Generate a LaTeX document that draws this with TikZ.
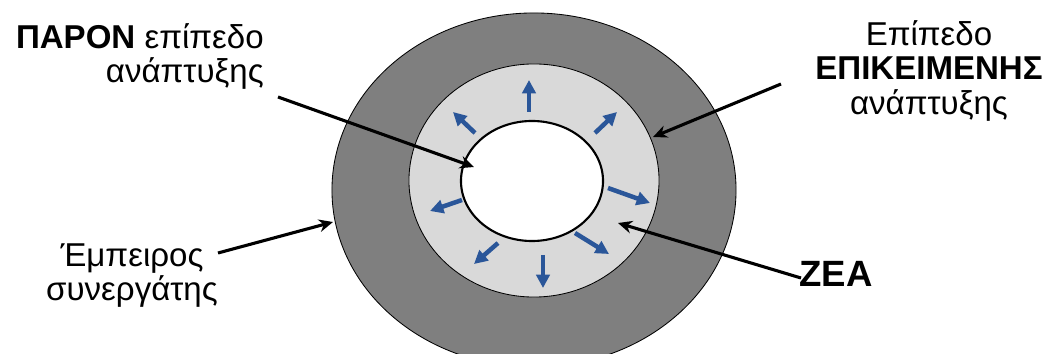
\documentclass[tikz,border=0pt]{standalone}
\usepackage{fontspec}
\setmainfont{Liberation Sans}
\usetikzlibrary{arrows.meta,shapes.geometric}
\definecolor{outergray}{HTML}{7F7F7F}
\definecolor{lightgray}{HTML}{D9D9D9}
\definecolor{arrowblue}{HTML}{2A5699}
\begin{document}
\begin{tikzpicture}[x=0.025cm,y=-0.025cm,
  lbl/.style={font=\fontsize{23.5}{24.5}\selectfont, inner sep=0pt},
  ring/.style={ellipse, draw=black, inner sep=0pt},
  pointer/.style={line width=2.2pt, -{Stealth[length=10pt,width=9pt]}},
  growarrow/.style={draw=arrowblue, line width=3.2pt, -{Triangle[length=9.5pt,width=9.5pt]}}]
\useasboundingbox (0,0) rectangle (1048,354);
\clip (0,0) rectangle (1048,354);
% rings
\node[ring, fill=outergray, line width=0.6pt, minimum width=10.1cm, minimum height=8.85cm] (outer) at (534,190) {};
\node[ring, fill=lightgray, line width=0.6pt, minimum width=6.25cm, minimum height=5.825cm] (middle) at (534,180.5) {};
\node[ring, fill=white, line width=1.5pt, minimum width=3.55cm, minimum height=3.0cm] (inner) at (532,181) {};
% growth arrows
\draw[growarrow] (529,112) -- (529,80);
\draw[growarrow] (475,133) -- (453,112);
\draw[growarrow] (595,133) -- (617,112);
\draw[growarrow] (608,188) -- (650,203);
\draw[growarrow] (462,200) -- (430,211);
\draw[growarrow] (498,243) -- (474,264);
\draw[growarrow] (543,255) -- (543,288);
\draw[growarrow] (575,233) -- (609,254);
% labels
\node[lbl, align=right, anchor=north east] (paron) at (264,23) {\textbf{ΠΑΡΟΝ} επίπεδο\\ανάπτυξης};
\node[lbl, align=center, anchor=north] (epik) at (929,20) {Επίπεδο\\\textbf{ΕΠΙΚΕΙΜΕΝΗΣ}\\ανάπτυξης};
\node[lbl, align=center, anchor=north] (emp) at (132,243) {Έμπειρος\\συνεργάτης};
\node[lbl, anchor=base west, font=\fontsize{26}{28}\selectfont\bfseries] (zea) at (799,287) {ΖΕΑ};
% pointer coordinates
\coordinate (paronS) at (278,97);
\coordinate (paronT) at (474,167);
\coordinate (epikS) at (781,84);
\coordinate (epikT) at (653,137);
\coordinate (empS) at (218,253);
\coordinate (empT) at (333,222);
\coordinate (zeaS) at (801,278);
\coordinate (zeaT) at (618,223);
\draw[pointer] (paronS) -- (paronT);
\draw[pointer] (epikS) -- (epikT);
\draw[pointer] (empS) -- (empT);
\draw[pointer] (zeaS) -- (zeaT);
\end{tikzpicture}
\end{document}
